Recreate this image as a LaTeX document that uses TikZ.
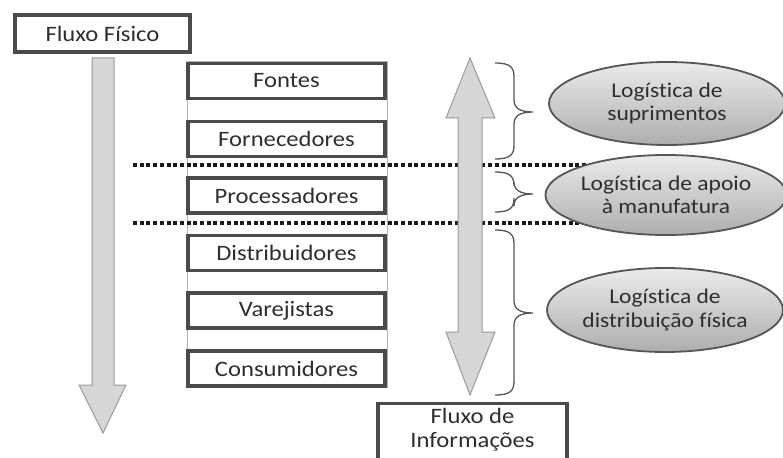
\documentclass[tikz,border=0pt]{standalone}
\usepackage{fontspec}
\setmainfont{Carlito}[FakeStretch=1.12, Ligatures=NoCommon]
\usetikzlibrary{shapes.geometric}
\definecolor{boxline}{HTML}{4A4A4A}
\definecolor{txt}{HTML}{2E2E2E}
\definecolor{arrfill}{HTML}{D6D6D6}
\definecolor{arrline}{HTML}{9A9A9A}
\definecolor{elline}{HTML}{555555}
\tikzset{
  base/.style={font=\fontsize{22}{24}\selectfont, text=txt},
  stagebox/.style={base, draw=boxline, line width=3.4pt, fill=white, minimum width=197pt, minimum height=35pt, inner sep=0pt},
  titlebox/.style={base, draw=boxline, line width=3.4pt, fill=white, inner sep=0pt},
  ell/.style={base, font=\fontsize{21}{23.5}\selectfont, ellipse, draw=elline, line width=1.8pt, top color=black!8, bottom color=black!32, minimum width=236pt, minimum height=83pt, align=center, inner sep=0pt},
  bigarrow/.style={fill=arrfill, draw=arrline, line width=1pt, line join=miter},
  dotline/.style={line width=3.2pt, dash pattern=on 4pt off 2.7pt, black!90},
  br/.style={draw=elline, line width=1.3pt},
}
\newcommand\mybrace[3]{%
  \draw[br] (495,#1) .. controls (510,#1) and (514,#1+4) .. (514,#1+14) -- (514,#2-12) .. controls (514,#2-4) and (520,#2) .. (533,#2) .. controls (520,#2) and (514,#2+4) .. (514,#2+12) -- (514,#3-14) .. controls (514,#3-4) and (510,#3) .. (495,#3);}
\begin{document}
\begin{tikzpicture}[x=1pt,y=-1pt]
\useasboundingbox (0,0) rectangle (783,457);
\clip (0,0) rectangle (783,457);
\fill[white] (0,0) rectangle (783,457);
% Fluxo fisico
\node[titlebox, minimum width=175pt, minimum height=37pt] (ff) at (102.5,33.5) {Fluxo Físico};
\draw[bigarrow] (92,58) -- (114,58) -- (114,385) -- (126,385) -- (103,433) -- (79,385) -- (92,385) -- cycle;
% column
\draw[black!30, line width=1pt, fill=white] (187,62) rectangle (387,387);
\node[stagebox] (fontes) at (286.5,81) {Fontes};
\node[stagebox] (forn) at (286.5,139) {Fornecedores};
\node[stagebox] (proc) at (286.5,195.5) {Processadores};
\node[stagebox] (dist) at (286.5,253) {Distribuidores};
\node[stagebox] (var) at (286.5,310.5) {Varejistas};
\node[stagebox] (cons) at (286.5,368.5) {Consumidores};
% dotted lines
\draw[dotline] (133,165) -- (600,165);
\draw[dotline] (133,223) -- (600,223);
% double arrow
\draw[bigarrow] (470,58) -- (495,118) -- (482,118) -- (482,332) -- (495,332) -- (470,395) -- (446,332) -- (458,332) -- (458,118) -- (446,118) -- cycle;
% braces
\mybrace{63}{112}{159}
\mybrace{172}{194}{212}
\mybrace{230}{313}{395}
% ellipses
\node[ell] (sup) at (667,103.5) {Logística de\\suprimentos};
\node[ell, minimum height=80pt] (apoio) at (666,195) {Logística de apoio\\à manufatura};
\node[ell, minimum height=84pt] (dfis) at (665,310) {Logística de\\distribuição física};
% fluxo de informacoes
\node[titlebox, minimum width=189pt, minimum height=90pt, anchor=north] (fi) at (472.5,402) {};
\node[base, align=center] (fitxt) at (472.5,430) {Fluxo de\\Informações};
\end{tikzpicture}
\end{document}
